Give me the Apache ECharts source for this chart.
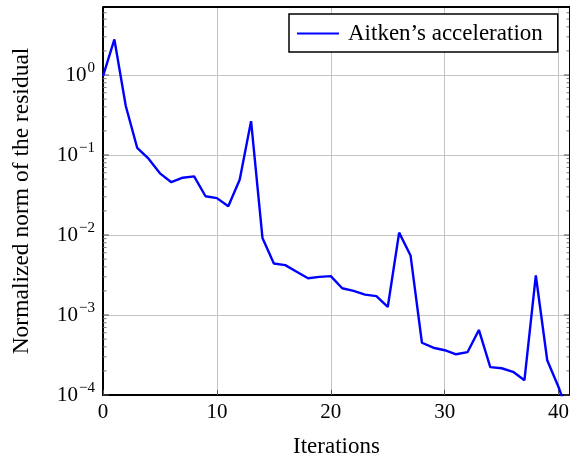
<!DOCTYPE html>
<html>
<head>
<meta charset="utf-8">
<script src="https://cdn.jsdelivr.net/npm/echarts@6/dist/echarts.min.js"></script>
<style>
  html, body { margin: 0; padding: 0; background: #fff; }
  #chart { width: 570px; height: 459px; }
</style>
</head>
<body>
<div id="chart"></div>
<script>
// iterations and normalized residual
var iterations = [0, 1, 2, 3, 4, 5, 6, 7, 8, 9, 10, 11, 12, 13, 14, 15, 16, 17, 18, 19, 20,
                  21, 22, 23, 24, 25, 26, 27, 28, 29, 30, 31, 32, 33, 34, 35, 36, 37, 38, 39, 40, 41];
var residual = [0.97, 2.78, 0.41, 0.123, 0.090, 0.059, 0.0457, 0.052, 0.054, 0.0305, 0.0289,
                0.0229, 0.049, 0.265, 0.0092, 0.0044, 0.0042, 0.00347, 0.00288, 0.0030, 0.00306,
                0.00216, 0.0020, 0.0018, 0.00172, 0.00126, 0.0107, 0.00555, 0.00045, 0.00039,
                0.000363, 0.000323, 0.000343, 0.00065, 0.000223, 0.000216, 0.000195, 0.000153,
                0.00312, 0.000272, 0.000125, 0.00005];
var xTicks = [0, 10, 20, 30, 40];
var yDecades = [-4, -3, -2, -1, 0];

var supMap = {'-': '\u2212', '0': '0', '1': '1', '2': '2', '3': '3', '4': '4'};

var minorVals = [];
yDecades.forEach(function (e) {
  for (var k = 2; k <= 9; k++) {
    var v = k * Math.pow(10, e);
    if (v < 7) minorVals.push([0, v]);
  }
});
var majorVals = yDecades.map(function (e) { return [0, Math.pow(10, e)]; });

var font = '"Liberation Serif", "DejaVu Serif", serif';
var myChart = echarts.init(document.getElementById('chart'));

var option = {
  animation: false,
  grid: {
    left: 103, top: 7, width: 467, height: 388,
    outerBoundsMode: 'none', containLabel: false,
    show: true, borderColor: '#000', borderWidth: 0
  },
  legend: {
    data: ['Aitken\u2019s acceleration'],
    left: 289, top: 14,
    padding: [8, 15, 7, 8],
    borderColor: '#000', borderWidth: 1.5,
    backgroundColor: '#fff',
    icon: 'rect', itemWidth: 42, itemHeight: 2, itemGap: 0,
    textStyle: { fontFamily: font, fontSize: 23, color: '#000', padding: [0, 0, 0, 4] }
  },
  xAxis: {
    type: 'value', min: 0, max: 41, interval: 10,
    name: 'Iterations', nameLocation: 'middle', nameGap: 40,
    nameTextStyle: { fontFamily: font, fontSize: 23, color: '#000' },
    axisLine: { show: true, lineStyle: { color: '#000', width: 2 } },
    axisTick: { show: true, inside: true, length: 5, lineStyle: { color: '#555', width: 1 } },
    axisLabel: {
      fontFamily: font, fontSize: 21, color: '#000', margin: 7, showMaxLabel: false,
      formatter: function (v) { return xTicks.indexOf(v) >= 0 ? String(v) : ''; }
    },
    splitLine: { show: true, lineStyle: { color: '#c4c4c4', width: 1 } }
  },
  yAxis: {
    type: 'log', min: 1e-4, max: Math.pow(10, 0.85), logBase: 10,
    name: 'Normalized norm of the residual', nameLocation: 'middle', nameGap: 69,
    nameTextStyle: { fontFamily: font, fontSize: 23.5, color: '#000' },
    axisLine: { show: true, lineStyle: { color: '#000', width: 2 } },
    axisTick: { show: false },
    axisLabel: {
      margin: 8, showMaxLabel: false,
      formatter: function (v) {
        var e = Math.round(Math.log10(v));
        if (Math.abs(Math.log10(v) - e) > 1e-6 || yDecades.indexOf(e) < 0) return '';
        var s = String(e).split('').map(function (c) { return supMap[c]; }).join('');
        return '{b|10}{s|' + s + '}';
      },
      rich: {
        b: { fontFamily: font, fontSize: 21, color: '#000' },
        s: { fontFamily: font, fontSize: 15, color: '#000', padding: [0, 0, 14, 1] }
      }
    },
    splitLine: {
      show: true,
      lineStyle: { color: '#c4c4c4', width: 1 }
    }
  },
  series: [
    {
      name: 'Aitken\u2019s acceleration',
      type: 'line',
      data: iterations.map(function (x, i) { return [x, residual[i]]; }),
      symbol: 'none',
      clip: true,
      z: 5,
      lineStyle: { color: '#0000ff', width: 2.4 },
      itemStyle: { color: '#0000ff' }
    },
    {
      // minor and major ticks on left and right frame (log decades)
      type: 'custom',
      silent: true,
      z: 3,
      data: minorVals.map(function (d) { return d.concat(0); }).concat(
            majorVals.map(function (d) { return d.concat(1); })),
      renderItem: function (params, api) {
        var y = api.coord([0, api.value(1)])[1];
        var len = api.value(2) ? 6 : 3.5;
        var x0 = params.coordSys.x, x1 = params.coordSys.x + params.coordSys.width;
        var st = { stroke: api.value(2) ? '#555' : '#777', lineWidth: 1 };
        return {
          type: 'group',
          children: [
            { type: 'line', shape: { x1: x0, y1: y, x2: x0 + len, y2: y }, style: st },
            { type: 'line', shape: { x1: x1 - len, y1: y, x2: x1, y2: y }, style: st }
          ]
        };
      }
    }
  ],
  graphic: []
};

myChart.setOption(option);

// top and right frame lines follow the grid rectangle
var rect = myChart.getModel().getComponent('grid').coordinateSystem.getRect();
myChart.setOption({
  graphic: [{
    type: 'polyline', silent: true, z: 10,
    shape: { points: [[rect.x, rect.y], [rect.x + rect.width, rect.y], [rect.x + rect.width, rect.y + rect.height]] },
    style: { stroke: '#000', lineWidth: 2, fill: null }
  }]
});
</script>
</body>
</html>
